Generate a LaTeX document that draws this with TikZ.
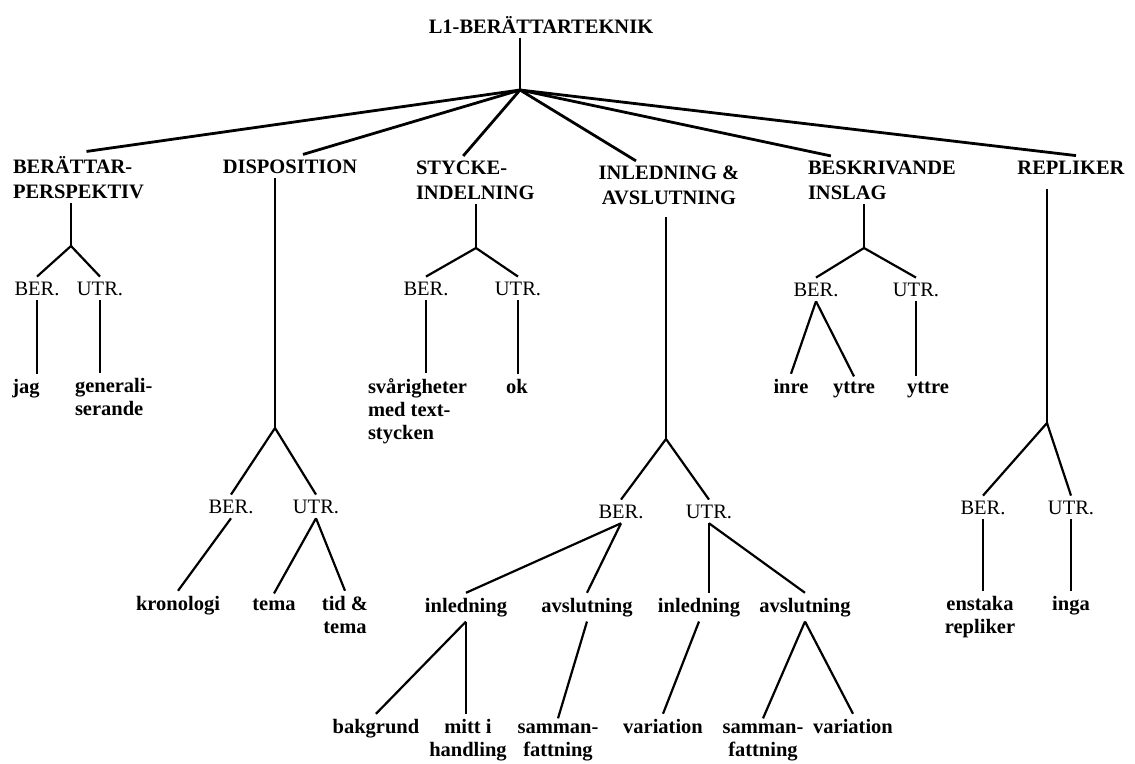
\documentclass[tikz,border=0pt]{standalone}
\usepackage{fontspec}
\setmainfont{Liberation Serif}
\usetikzlibrary{positioning,calc}

\begin{document}
\begin{tikzpicture}[x=1pt, y=-1pt,
every node/.style = {inner sep=2pt, outer sep=3pt, anchor=base,
                     font=\fontsize{20.5}{23}\selectfont},
top/.style  = {font=\fontsize{20.5}{23}\selectfont\bfseries},
cat/.style  = {font=\fontsize{20.5}{24.5}\selectfont\bfseries, align=left},
sub/.style  = {font=\fontsize{20.5}{23}\selectfont},
leaf/.style = {font=\fontsize{20.5}{23}\selectfont\bfseries, align=center},
every path/.style = {line width=2.2pt},
fan/.style  = {line width=2.8pt}
                    ]
\useasboundingbox (0,0) rectangle (1135,763);
% root and first fan
\node[top] (root) at (541,33) {L1-BERÄTTARTEKNIK};
\coordinate (hub) at (520,90);
\node[cat, anchor=base west] (pers)  at (8,198)   {BERÄTTAR-\\PERSPEKTIV};
\node[cat]                   (disp)  at (290,173) {DISPOSITION};
\node[cat, anchor=base west] (styck) at (411,199) {STYCKE-\\INDELNING};
\node[cat, align=center]     (inav)  at (669,204) {INLEDNING \&\\AVSLUTNING};
\node[cat, anchor=base west] (beskr) at (803,199) {BESKRIVANDE\\INSLAG};
\node[cat]                   (repl)  at (1071,174) {REPLIKER};
\draw[fan] (hub |- root.south) -- (hub);
\foreach \c/\s in {pers/8, disp/13, styck/-12, inav/-33, beskr/-51, repl/5}
    \draw[fan] (hub) -- ([xshift=\s pt]\c.north);
%
\coordinate (jpers)  at (71,246);
\coordinate (jdisp)  at (275,428);
\coordinate (jstyck) at (476,248);
\coordinate (jinav)  at (666,439);
\coordinate (jbeskr) at (864,248);
\coordinate (jrepl)  at (1047,423);
\foreach \c in {pers, disp, styck, beskr}
    \draw (j\c |- \c.south) -- (j\c);
\draw[shorten <=8pt] (jinav |- inav.south) -- (jinav);
\draw[shorten <=10pt] (jrepl |- repl.south) -- (jrepl);
% BER. / UTR.
\node[sub] (pers-b)  at (37,295)   {BER.};
\node[sub] (pers-u)  at (100,295)  {UTR.};
\node[sub] (disp-b)  at (231,513)  {BER.};
\node[sub] (disp-u)  at (316,513)  {UTR.};
\node[sub] (styck-b) at (426,295)  {BER.};
\node[sub] (styck-u) at (518,295)  {UTR.};
\node[sub] (inav-b)  at (621,518)  {BER.};
\node[sub] (inav-u)  at (709,518)  {UTR.};
\node[sub] (beskr-b) at (816,296)  {BER.};
\node[sub] (beskr-u) at (916,296)  {UTR.};
\node[sub] (repl-b)  at (983,514)  {BER.};
\node[sub] (repl-u)  at (1071,514) {UTR.};
\foreach \c in {pers, disp, styck, inav, beskr, repl}
    \draw (\c-b.north) -- (j\c) -- (\c-u.north);
% leaves
\node[leaf] (jag) at (26,393) {jag};
\node[leaf, align=left, anchor=base west] (gen) at (70,415) {generali-\\serande};
\node[leaf, align=left, anchor=base west] (svar) at (363,439) {svårigheter\\med text-\\stycken};
\node[leaf] (ok)   at (517,393) {ok};
\node[leaf] (inre) at (791,393) {inre};
\node[leaf] (yt1)  at (854,393) {yttre};
\node[leaf] (yt2)  at (928,393) {yttre};
%
\node[leaf] (kron) at (178,610) {kronologi};
\node[leaf] (tema) at (274,610) {tema};
\node[leaf] (tid)  at (345,633) {tid \&\\tema};
\node[leaf] (in1)  at (466,612) {inledning};
\node[leaf] (av1)  at (587,612) {avslutning};
\node[leaf] (in2)  at (699,612) {inledning};
\node[leaf] (av2)  at (805,612) {avslutning};
\node[leaf] (enst) at (980,633) {enstaka\\repliker};
\node[leaf] (inga) at (1071,610) {inga};
%
\node[leaf] (bakg)  at (376,733) {bakgrund};
\node[leaf] (mitt)  at (468,756) {mitt i\\handling};
\node[leaf] (samm1) at (558,756) {samman-\\fattning};
\node[leaf] (var1)  at (663,733) {variation};
\node[leaf] (samm2) at (763,756) {samman-\\fattning};
\node[leaf] (var2)  at (853,733) {variation};
% straight stems
\foreach \a/\b in {pers-b/jag, pers-u/gen, styck-b/svar, styck-u/ok,
                   beskr-u/yt2, repl-b/enst, repl-u/inga, inav-u/in2, in1/mitt}
    \draw (\a.south) -- (\a.south |- \b.north);
% slanted branches
\foreach \a/\b in {beskr-b/inre, beskr-b/yt1, disp-b/kron, disp-u/tema, disp-u/tid,
                   inav-b/in1, inav-b/av1, inav-u/av2, in1/bakg, av1/samm1,
                   in2/var1, av2/samm2, av2/var2}
    \draw (\a.south) -- (\b.north);
\end{tikzpicture}
\end{document}
